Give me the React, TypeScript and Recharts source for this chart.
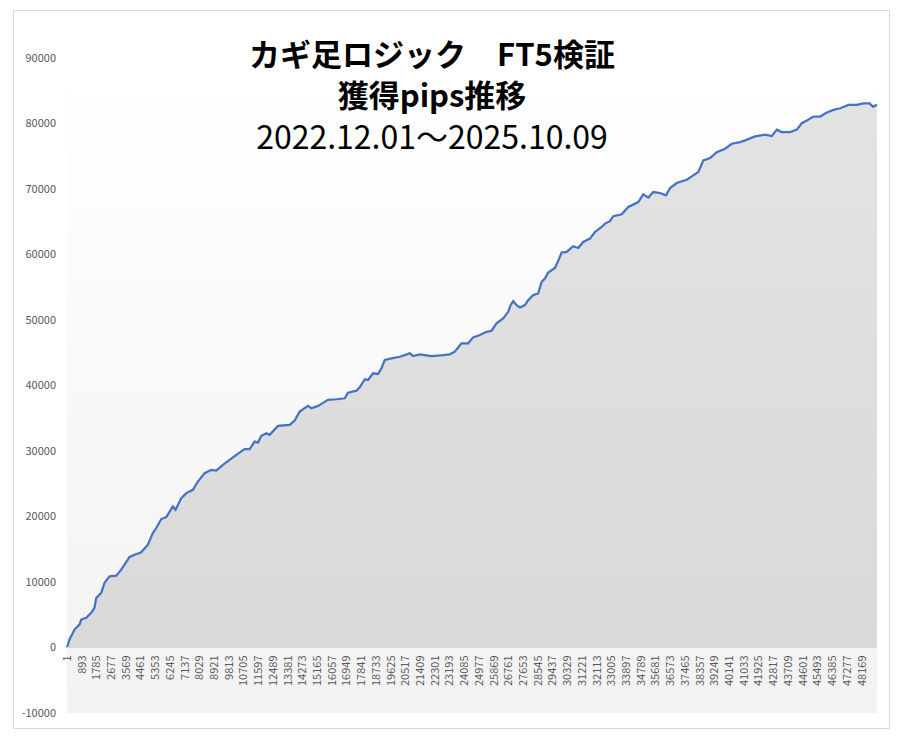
import React from 'react';
import {
  AreaChart,
  Area,
  XAxis,
  YAxis,
  CartesianGrid,
  ReferenceLine,
} from 'recharts';

// 取引番号（横軸の位置）と累計獲得pips
const tradeNo = [
  1, 153, 456, 759, 863, 1165, 1468, 1668, 1772, 2075, 2275, 2579, 2985, 3288,
  3489, 3792, 4095, 4502, 4902, 5205, 5412, 5715, 6018, 6419, 6583, 6929, 7232,
  7632, 7936, 8342, 8749, 9052, 9452, 9859, 10265, 10769, 11072, 11376, 11576,
  11782, 12085, 12286, 12789, 13499, 13802, 14106, 14609, 14815, 15216, 15422,
  15823, 16332, 16836, 17036, 17546, 17746, 18049, 18249, 18553, 18856, 19063,
  19263, 19669, 20173, 20779, 20980, 21386, 22096, 22800, 23206, 23510, 23916,
  24317, 24620, 25026, 25433, 25736, 26039, 26440, 26744, 26889, 27047, 27253,
  27453, 27757, 27957, 28260, 28564, 28770, 28970, 29170, 29577, 29777, 29983,
  30286, 30687, 30990, 31293, 31700, 32004, 32410, 32611, 32914, 33114, 33624,
  34024, 34631, 34934, 35237, 35540, 35947, 36311, 36554, 36961, 37567, 37968,
  38271, 38575, 38981, 39388, 39891, 40297, 40801, 41104, 41711, 42318, 42723,
  43027, 43330, 43834, 44240, 44544, 44847, 45248, 45655, 46061, 46462, 46867,
  47371, 47880, 48280, 48645, 48852, 49100,
];

const pips = [
  0, 1220, 2740, 3500, 4270, 4530, 5290, 6050, 7570, 8340, 9860, 10870, 10970,
  11890, 12650, 13820, 14170, 14530, 15700, 17480, 18240, 19610, 19920, 21530,
  21030, 22810, 23570, 24080, 25340, 26620, 27130, 27020, 27890, 28650, 29410,
  30280, 30280, 31440, 31290, 32310, 32720, 32460, 33830, 33990, 34640, 36010,
  36880, 36530, 36880, 37190, 37800, 37900, 38050, 38910, 39210, 39730, 40950,
  40840, 41860, 41760, 42630, 43890, 44150, 44390, 44910, 44500, 44760, 44500,
  44650, 44760, 45160, 46440, 46440, 47350, 47700, 48200, 48360, 49480, 50240,
  51250, 52270, 52880, 52270, 51920, 52270, 53030, 53800, 54050, 55820, 56330,
  57240, 57950, 59020, 60300, 60400, 61260, 61000, 61920, 62430, 63440, 64210,
  64720, 65080, 65840, 66140, 67250, 68010, 69190, 68690, 69540, 69390, 69040,
  70150, 70910, 71420, 72080, 72590, 74370, 74720, 75630, 76150, 76910, 77160,
  77420, 78030, 78290, 78080, 79060, 78690, 78690, 79060, 80050, 80450, 81060,
  81060, 81670, 82080, 82330, 82840, 82840, 83080, 83080, 82580, 82840,
];

const xTicks = [
  1, 893, 1785, 2677, 3569, 4461, 5353, 6245, 7137, 8029, 8921, 9813, 10705,
  11597, 12489, 13381, 14273, 15165, 16057, 16949, 17841, 18733, 19625, 20517,
  21409, 22301, 23193, 24085, 24977, 25869, 26761, 27653, 28545, 29437, 30329,
  31221, 32113, 33005, 33897, 34789, 35681, 36573, 37465, 38357, 39249, 40141,
  41033, 41925, 42817, 43709, 44601, 45493, 46385, 47277, 48169,
];

const yTicks = [
  -10000, 0, 10000, 20000, 30000, 40000, 50000, 60000, 70000, 80000, 90000,
];

const titleLines = ['カギ足ロジック　FT5検証', '獲得pips推移', '2022.12.01～2025.10.09'];

const chartData = tradeNo.map((n, i) => ({ n, pips: pips[i] }));

const WIDTH = 903;
const HEIGHT = 740;
const X_AXIS_H = 27;
const MARGIN = { top: 58, right: 26, bottom: 0, left: 0 };
const PLOT_H = HEIGHT - MARGIN.top - MARGIN.bottom - X_AXIS_H;
// 横軸は0の位置で交差（縦軸の1目盛分だけ上）
const ZERO_SHIFT = PLOT_H / (yTicks.length - 1);

const FONT = '"Noto Sans CJK JP", "Noto Sans", sans-serif';

const XTick = (props: any) => {
  const { x, y, payload } = props;
  return (
    <g transform={`translate(${x},${Number(y) - ZERO_SHIFT})`}>
      <text
        transform="rotate(-90)"
        x={0}
        y={0}
        textAnchor="end"
        dy="0.35em"
        fill="#595959"
        fontSize={11}
        fontFamily={FONT}
      >
        {payload.value}
      </text>
    </g>
  );
};

const App: React.FC = () => {
  return (
    <div style={{ position: 'relative', width: WIDTH, height: HEIGHT, background: '#fff' }}>
      <style>{'body{margin:0}'}</style>
      <div
        style={{
          position: 'absolute',
          left: 13,
          top: 10,
          width: 877,
          height: 719,
          border: '1px solid #d9d9d9',
          boxSizing: 'border-box',
        }}
      />
      <AreaChart width={WIDTH} height={HEIGHT} data={chartData} margin={MARGIN}>
        <defs>
          <linearGradient id="plotBg" x1="0" y1="0" x2="0" y2="1">
            <stop offset="0%" stopColor="#ffffff" />
            <stop offset="100%" stopColor="#f2f2f2" />
          </linearGradient>
          <linearGradient id="areaFill" x1="0" y1="0" x2="0" y2="1">
            <stop offset="0%" stopColor="#e3e3e3" />
            <stop offset="100%" stopColor="#d9d9d9" />
          </linearGradient>
        </defs>
        <CartesianGrid horizontal={false} vertical={false} fill="url(#plotBg)" stroke="none" />
        <XAxis
          dataKey="n"
          type="number"
          domain={[1, 49100]}
          ticks={xTicks}
          interval={0}
          height={X_AXIS_H}
          axisLine={false}
          tickLine={false}
          tickSize={0}
          tickMargin={8}
          tick={<XTick />}
        />
        <YAxis
          type="number"
          domain={[-10000, 90000]}
          ticks={yTicks}
          interval={0}
          width={67}
          axisLine={false}
          tickLine={false}
          tickSize={0}
          tickMargin={11}
          tick={{ fill: '#595959', fontSize: 11, fontFamily: FONT }}
        />
        <ReferenceLine y={0} stroke="#d9d9d9" strokeWidth={1} />
        <Area
          type="linear"
          dataKey="pips"
          baseValue={0}
          stroke="#4472c4"
          strokeWidth={2.25}
          fill="url(#areaFill)"
          fillOpacity={1}
          dot={false}
          activeDot={false}
          isAnimationActive={false}
        />
      </AreaChart>
      {titleLines.map((t, i) => (
        <div
          key={t}
          style={{
            position: 'absolute',
            left: 182,
            top: [37, 78, 119][i],
            width: 500,
            height: 32,
            textAlign: 'center',
            fontFamily: FONT,
            color: '#000',
            fontSize: i < 2 ? 31 : 32,
            lineHeight: 1,
            fontWeight: i < 2 ? 700 : 400,
            whiteSpace: 'nowrap',
          }}
        >
          {t}
        </div>
      ))}
    </div>
  );
};

export default App;
